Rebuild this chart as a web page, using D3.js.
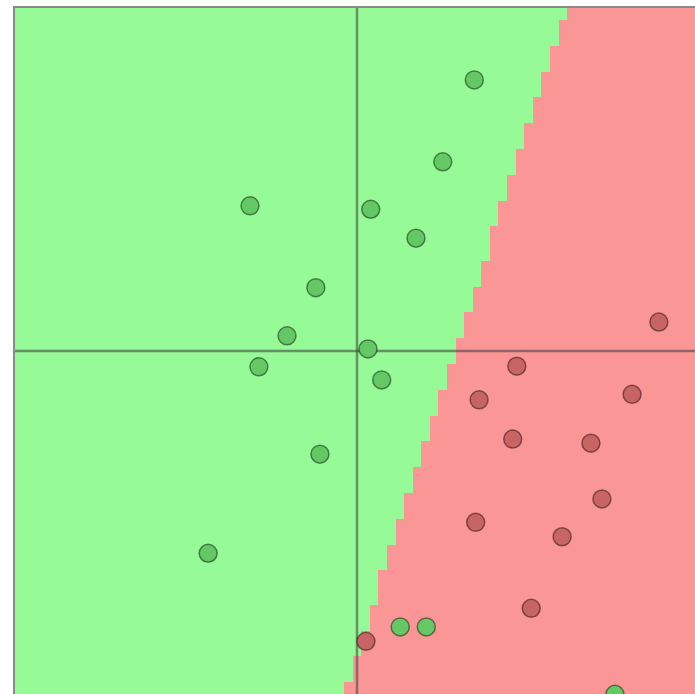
<!DOCTYPE html>
<html>
<head>
<meta charset="utf-8">
<script src="https://cdn.jsdelivr.net/npm/d3@7"></script>
<style>
body{margin:0;background:#fff;overflow:hidden;}
</style>
</head>
<body>
<svg id="graph"></svg>
<script>
// points, data coords (-5..5 both ways)
var greenX=[1.71,1.25,-1.56,0.20,0.86,-0.60,-1.02,0.16,-1.43,0.36,-0.54,-2.17,0.63,1.01,3.76]
var greenY=[3.94,2.75,2.11,2.06,1.64,0.92,0.22,0.03,-0.23,-0.42,-1.50,-2.94,-4.01,-4.01,-4.99]
var redX=[4.40,2.33,4.01,1.78,2.27,3.41,3.57,1.73,2.99,2.54,0.13]
var redY=[0.42,-0.22,-0.63,-0.71,-1.28,-1.34,-2.15,-2.49,-2.70,-3.74,-4.22]
// linear classifier: w.x + b > 0 -> green
var weights=[-1,0.325]
var bias=1.43
var gridCells=80

var initGraph=function()
    {
        var screen={width:695,height:694}
        var margins={left:14,top:7}
        var graph={width:686,height:688}

        var svg=d3.select("#graph")
            .attr("width",screen.width)
            .attr("height",screen.height)

        var xScale=d3.scaleLinear()
            .domain([-5,5])
            .range([margins.left,margins.left+graph.width])
        var yScale=d3.scaleLinear()
            .domain([5,-5])
            .range([margins.top,margins.top+graph.height])

        svg.append("clipPath")
            .attr("id","plotclip")
            .append("rect")
            .attr("x",margins.left)
            .attr("y",margins.top)
            .attr("width",graph.width)
            .attr("height",graph.height)

        var target=svg.append("g")
            .attr("clip-path","url(#plotclip)")

        drawCells(target,xScale,yScale)
        drawAxes(target,xScale,yScale)
        drawPoints(target,xScale,yScale)

        svg.append("rect")
            .attr("x",margins.left)
            .attr("y",margins.top)
            .attr("width",graph.width)
            .attr("height",graph.height)
            .attr("fill","none")
            .attr("stroke","#8a8a8a")
            .attr("stroke-width",2)
    }

var drawCells=function(target,xScale,yScale)
    {
        var step=10/gridCells
        var cells=[]
        d3.range(gridCells+1).forEach(function(i)
            {
                d3.range(gridCells+1).forEach(function(j)
                    {
                        var x=-5+i*step, y=5-j*step
                        cells.push({x:x,y:y,dec:weights[0]*x+weights[1]*y+bias})
                    })
            })
        var d=xScale(step)-xScale(0)
        target.append("g")
            .selectAll("rect")
            .data(cells)
            .enter()
            .append("rect")
            .attr("x",function(c){return xScale(c.x)-d/2})
            .attr("y",function(c){return yScale(c.y)-d/2})
            .attr("width",d+0.6)
            .attr("height",d+0.6)
            .attr("fill",function(c){return c.dec>0?"rgb(150,250,150)":"rgb(250,150,150)"})
            .attr("shape-rendering","crispEdges")
    }

var drawAxes=function(target,xScale,yScale)
    {
        target.append("line")
            .attr("x1",xScale(0)).attr("x2",xScale(0))
            .attr("y1",yScale(5)).attr("y2",yScale(-5))
            .attr("stroke","rgb(60,60,60)")
            .attr("stroke-opacity",0.55)
            .attr("stroke-width",2.5)
        target.append("line")
            .attr("x1",xScale(-5)).attr("x2",xScale(5))
            .attr("y1",yScale(0)).attr("y2",yScale(0))
            .attr("stroke","rgb(60,60,60)")
            .attr("stroke-opacity",0.55)
            .attr("stroke-width",2.5)
    }

var drawPoints=function(target,xScale,yScale)
    {
        var pts=greenX.map(function(x,i){return {x:x,y:greenY[i],c:"rgb(100,200,100)"}})
            .concat(redX.map(function(x,i){return {x:x,y:redY[i],c:"rgb(200,100,100)"}}))
        target.append("g")
            .selectAll("circle")
            .data(pts)
            .enter()
            .append("circle")
            .attr("cx",function(p){return xScale(p.x)})
            .attr("cy",function(p){return yScale(p.y)})
            .attr("r",9)
            .attr("fill",function(p){return p.c})
            .attr("stroke","rgba(0,0,0,0.45)")
            .attr("stroke-width",1.5)
    }

initGraph()
</script>
</body>
</html>
